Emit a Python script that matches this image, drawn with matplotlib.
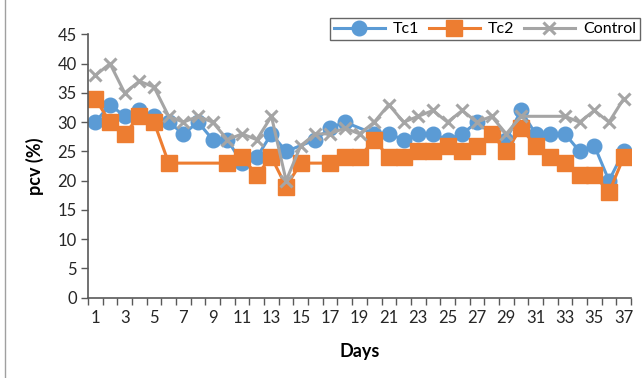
import numpy as np
import matplotlib
matplotlib.use("Agg")
import matplotlib.pyplot as plt
from matplotlib.lines import Line2D

plt.rcParams['font.family'] = ['Lato', 'DejaVu Sans']

days = list(range(1, 38))
nan = np.nan
tc1 = [30, 33, 31, 32, 31, 30, 28, 30, 27, 27, 23, 24, 28, 25, nan, 27, 29, 30, nan,
       28, 28, 27, 28, 28, 27, 28, 30, 28, 27, 32, 28, 28, 28, 25, 26, 20, 25]
tc2 = [34, 30, 28, 31, 30, 23, nan, nan, nan, 23, 24, 21, 24, 19, 23, nan, 23, 24, 24,
       27, 24, 24, 25, 25, 26, 25, 26, 28, 25, 29, 26, 24, 23, 21, 21, 18, 24]
control = [38, 40, 35, 37, 36, 31, 30, 31, 30, 27, 28, 27, 31, 20, 26, 28, 28, 29, 28,
           30, 33, 30, 31, 32, 30, 32, 30, 31, 28, 31, nan, nan, 31, 30, 32, 30, 34]
series_names = ["Tc1", "Tc2", "Control"]
y_ticks = list(range(0, 50, 5))

blue = "#5B9BD5"
orange = "#ED7D31"
grey = "#A5A5A5"

fig = plt.figure(figsize=(6.44, 3.78), dpi=100)
ax = fig.add_axes([88 / 644, 1 - 297.7 / 378, 543 / 644, (297.7 - 34.4) / 378])

x = np.array(days, dtype=float)
styles = [
    (tc1, dict(color=blue, marker="o", markersize=10.5, lw=2.2)),
    (tc2, dict(color=orange, marker="s", markersize=11, lw=2.2)),
    (control, dict(color=grey, marker="x", markersize=9, mew=2.2, lw=2.2)),
]
handles = []
for (vals, st), name in zip(styles, series_names):
    y = np.array(vals, dtype=float)
    ok = ~np.isnan(y)
    ln, = ax.plot(x[ok], y[ok], label=name, **st)
    handles.append(ln)

ax.set_xlim(0.5, 37.5)
ax.set_ylim(0, 45)
ax.set_yticks(y_ticks)
ax.set_yticklabels([str(v) for v in y_ticks], fontsize=12, color="#262626")

# boundaries between day categories carry the tick marks
ax.set_xticks(np.arange(0.5, 38.0, 1.0))
ax.set_xticklabels([])
ax.set_xticks(days[::2], minor=True)
ax.set_xticklabels([str(d) for d in days[::2]], minor=True, fontsize=12, color="#262626")
ax.tick_params(axis="x", which="major", length=5, width=1, color="#595959", direction="out")
ax.tick_params(axis="x", which="minor", length=0, pad=9)
ax.tick_params(axis="y", length=5, width=1, color="#595959", direction="out", pad=3)

for s in ("top", "right"):
    ax.spines[s].set_visible(False)
for s in ("left", "bottom"):
    ax.spines[s].set_color("#595959")
    ax.spines[s].set_linewidth(1.2)

ax.set_xlabel("Days", fontsize=13, fontweight="bold", labelpad=12)
ax.set_ylabel("pcv (%)", fontsize=13, fontweight="bold", labelpad=10)

leg = fig.legend(handles=handles, loc="upper right", ncol=3,
                 bbox_to_anchor=(640 / 644, 1 - 18 / 378), frameon=True,
                 fontsize=11.5, handlelength=3.2, columnspacing=0.6,
                 handletextpad=0.5, borderpad=0.25, borderaxespad=0,
                 fancybox=False)
leg.get_frame().set_edgecolor("#404040")
leg.get_frame().set_linewidth(1.0)

# outer chart border
fig.add_artist(Line2D([5 / 644, 5 / 644], [0, 1], color="#A0A0A0", lw=1.0))

fig.savefig("out.png", dpi=100)
